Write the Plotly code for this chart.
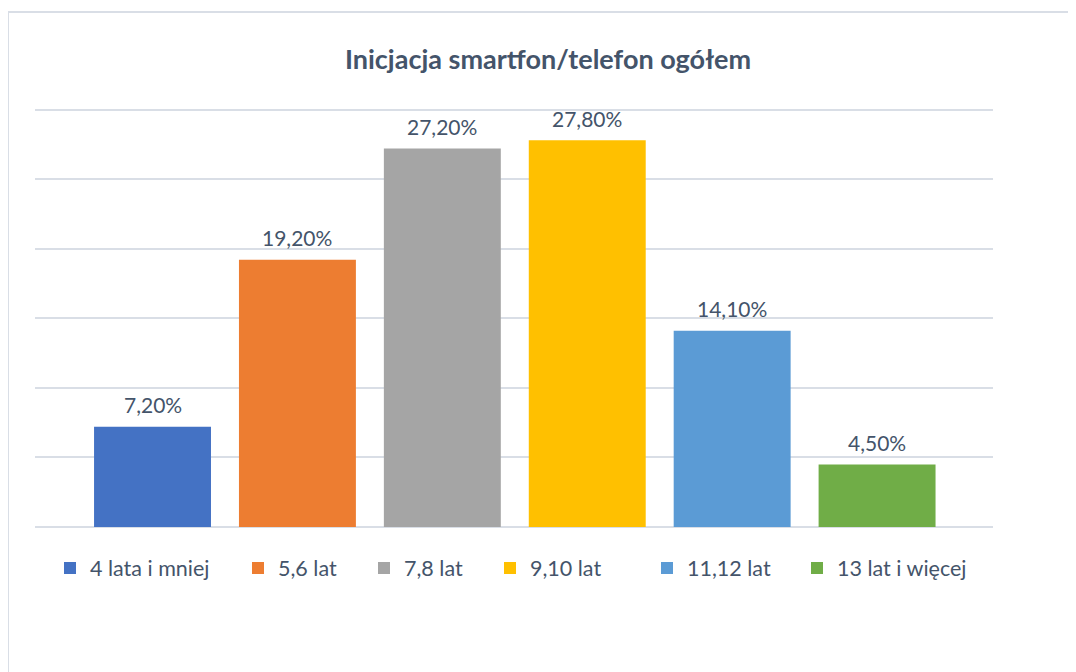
import plotly.graph_objects as go

categories = ["4 lata i mniej", "5,6 lat", "7,8 lat", "9,10 lat", "11,12 lat", "13 lat i więcej"]
values = [7.2, 19.2, 27.2, 27.8, 14.1, 4.5]
labels = ["7,20%", "19,20%", "27,20%", "27,80%", "14,10%", "4,50%"]
colors = ["#4472C4", "#ED7D31", "#A5A5A5", "#FFC000", "#5B9BD5", "#70AD47"]

FONT = "Lato"
TXT = "#44546A"

# page has an 8px body margin; plot area in page coords: left 35, baseline 527
L, PW = 27, 958
PH = 423
T = 519 - PH
YMAX = 30.4

# left edges (screen px) of the legend squares
legend_sq = [64, 252, 378, 504, 661, 811]

fig = go.Figure()
legend_layouts = {}
for i, (cat, val, lab, col) in enumerate(zip(categories, values, labels, colors)):
    lname = "legend" if i == 0 else f"legend{i + 1}"
    fig.add_trace(go.Bar(
        x=[cat], y=[val], name=cat,
        marker=dict(color=col, line=dict(width=0)),
        width=0.807,
        hoverinfo="skip",
        legend=lname,
    ))
    fig.add_annotation(x=cat, y=val, text=lab, showarrow=False,
                       yanchor="middle", yshift=22,
                       font=dict(family=FONT, size=21, color=TXT))
    legend_layouts[lname] = dict(
        orientation="h", x=(legend_sq[i] - 14 - 8 - L) / PW, xanchor="left",
        y=-41 / PH, yanchor="middle",
        font=dict(family=FONT, size=21.5, color=TXT),
        itemclick=False, itemdoubleclick=False, bgcolor="rgba(0,0,0,0)")

fig.update_layout(
    width=1076, height=672,
    margin=dict(l=L, r=1076 - L - PW, t=T, b=672 - T - PH),
    paper_bgcolor="white", plot_bgcolor="white",
    barmode="overlay",
    title=dict(text="<b>Inicjacja smartfon/telefon ogółem</b>",
               x=(548 - 8) / 1076, xanchor="center", y=1 - 52 / 672, yanchor="middle",
               font=dict(family=FONT, size=27, color=TXT)),
    showlegend=True,
    xaxis=dict(type="category", categoryorder="array", categoryarray=categories,
               range=[-0.811, 5.80], showticklabels=False, showgrid=False,
               zeroline=False, showline=False, fixedrange=True),
    yaxis=dict(range=[0, YMAX], tickvals=[0, 5, 10, 15, 20, 25, 30], showticklabels=False,
               showgrid=True, gridcolor="#D9DEE6", gridwidth=1.5, zeroline=True,
               zerolinecolor="#D9DEE6", zerolinewidth=1.5, showline=False, fixedrange=True),
    **legend_layouts,
)
fig.add_shape(type="rect", xref="paper", yref="paper",
              x0=(0 - L) / PW, x1=(1100 - L) / PW,
              y0=-(700 - T - PH) / PH, y1=(T + PH - 4) / PH,
              line=dict(color="#D9DEE6", width=2), fillcolor="rgba(0,0,0,0)", layer="below")

fig.write_html("out.html")
